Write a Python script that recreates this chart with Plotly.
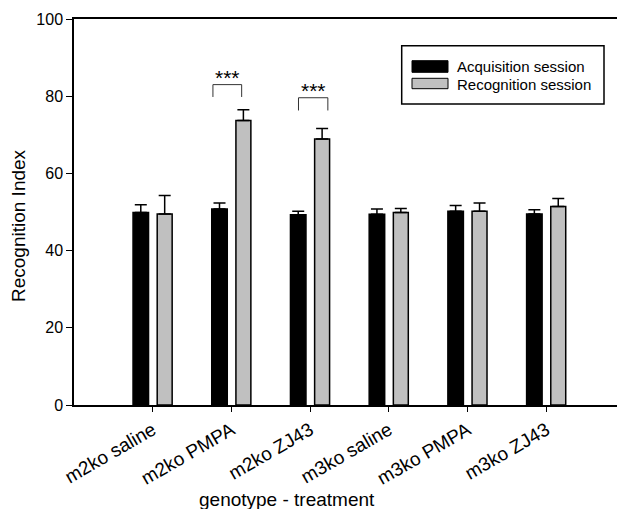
import plotly.graph_objects as go

categories = ["m2ko saline", "m2ko PMPA", "m2ko ZJ43", "m3ko saline", "m3ko PMPA", "m3ko ZJ43"]
acquisition = [49.9, 50.8, 49.3, 49.4, 50.2, 49.5]
acquisition_err = [2.0, 1.5, 0.9, 1.4, 1.5, 1.1]
recognition = [49.5, 73.7, 68.9, 49.9, 50.2, 51.4]
recognition_err = [4.8, 2.8, 2.7, 1.0, 2.1, 2.1]
y_ticks = [0, 20, 40, 60, 80, 100]
sig_groups = [1, 2]
sig_labels = ["***", "***"]

FONT = "Arial, 'Liberation Sans', Helvetica, sans-serif"
OFF = 8  # default page body margin in the browser
W, H = 625 - OFF, 509 - OFF
L, R, T, B = 74 - OFF, 0, 19 - OFF, 104
PW, PH = W - L - R, H - T - B

def px(x):  # screen px -> paper
    return (x - OFF - L) / PW

def py(y):
    return (H - B - (y - OFF)) / PH

fig = go.Figure()
fig.add_trace(go.Bar(
    x=categories, y=acquisition, name="Acquisition session",
    width=0.197, offset=-0.25,
    marker=dict(color="black", line=dict(color="black", width=1.5)),
    error_y=dict(type="data", array=acquisition_err, arrayminus=[0]*6, symmetric=False,
                 color="black", thickness=1.5, width=6),
    showlegend=False,
))
fig.add_trace(go.Bar(
    x=categories, y=recognition, name="Recognition session",
    width=0.19, offset=0.057,
    marker=dict(color="#c0c0c0", line=dict(color="black", width=1.5)),
    error_y=dict(type="data", array=recognition_err, arrayminus=[0]*6, symmetric=False,
                 color="black", thickness=1.5, width=6),
    showlegend=False,
))

# significance brackets
bracket_specs = [(-0.235, 0.13, 79.8, 83.0, 84.9), (-0.148, 0.225, 76.3, 79.6, 81.5)]
for g, lab, (dx0, dx1, ylo, yhi, ytxt) in zip(sig_groups, sig_labels, bracket_specs):
    fig.add_shape(type="path",
                  path=f"M {g+dx0} {ylo} L {g+dx0} {yhi} L {g+dx1} {yhi} L {g+dx1} {ylo}",
                  xref="x", yref="y", line=dict(color="#333333", width=1))
    fig.add_annotation(x=g + (dx0 + dx1) / 2, y=ytxt, xref="x", yref="y", text=lab,
                       showarrow=False, font=dict(family=FONT, size=21, color="black"),
                       yanchor="middle")

# legend box (drawn manually)
fig.add_shape(type="rect", xref="paper", yref="paper",
              x0=px(401.7), x1=px(604), y0=py(104), y1=py(45.7),
              line=dict(color="black", width=1.5), fillcolor="white")
leg = [("Acquisition session", "black", 60.7, 72.3, 66.5),
       ("Recognition session", "#c0c0c0", 78.3, 88.7, 84.0)]
for text, col, y0, y1, yc in leg:
    fig.add_shape(type="rect", xref="paper", yref="paper",
                  x0=px(412), x1=px(448), y0=py(y1), y1=py(y0),
                  line=dict(color="black", width=1), fillcolor=col)
    fig.add_annotation(x=px(455), y=py(yc), xref="paper", yref="paper", text=text,
                       showarrow=False, xanchor="left", yanchor="middle",
                       font=dict(family=FONT, size=15, color="black"))

# axis titles
fig.add_annotation(x=px(18), y=py(226), xref="paper", yref="paper", text="Recognition Index",
                   showarrow=False, textangle=-90, xanchor="center", yanchor="middle",
                   font=dict(family=FONT, size=19, color="black"))
fig.add_annotation(x=px(287), y=py(487), xref="paper", yref="paper", text="genotype - treatment",
                   showarrow=False, xanchor="center", yanchor="top",
                   font=dict(family=FONT, size=19, color="black"))

fig.update_layout(
    width=W, height=H, margin=dict(l=L, r=R, t=T, b=B, pad=0),
    plot_bgcolor="white", paper_bgcolor="white",
    font=dict(family=FONT, size=15, color="black"),
    barmode="overlay",
    xaxis=dict(range=[-1, 6], showline=True, linecolor="black", linewidth=1.5, mirror=True,
               ticks="outside", ticklen=5, tickwidth=1.2, tickcolor="black",
               tickangle=-30, showgrid=False, zeroline=False, automargin=False,
               tickfont=dict(family=FONT, size=19, color="black")),
    yaxis=dict(range=[0, 100], tickvals=y_ticks, showline=True, linecolor="black", linewidth=1.5,
               ticks="outside", ticklen=6, tickwidth=1.2, tickcolor="black",
               showgrid=False, zeroline=False, automargin=False,
               tickfont=dict(family=FONT, size=16, color="black")),
)

fig.write_html("out.html")
